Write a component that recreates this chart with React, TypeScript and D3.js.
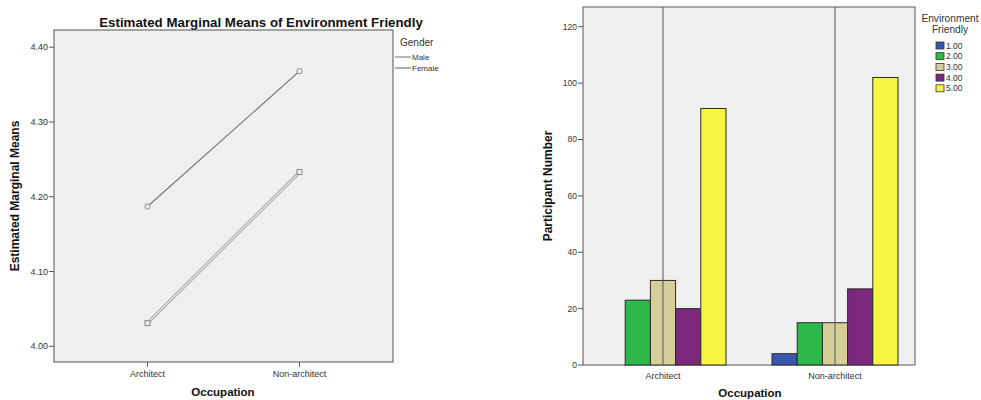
import React from "react";
import * as d3 from "d3";

const occupations = ["Architect", "Non-architect"];
const genders = ["Male", "Female"];
const maleMeans = [4.187, 4.368];
const femaleMeans = [4.031, 4.233];
const meanTicks = [4.0, 4.1, 4.2, 4.3, 4.4];

const friendlyLevels = ["1.00", "2.00", "3.00", "4.00", "5.00"];
const architectCounts = [0, 23, 30, 20, 91];
const nonArchitectCounts = [4, 15, 15, 27, 102];
const countTicks = [0, 20, 40, 60, 80, 100, 120];
const levelColors = ["#3b56ae", "#2db84a", "#d4cf98", "#7c287d", "#f7f442"];

const FONT = "'Liberation Sans', Arial, sans-serif";

function LeftChart() {
  const L = 54, R = 393, T = 30, B = 362;
  const x = d3.scalePoint<string>().domain(occupations).range([L, R]).padding(0.615);
  const y = d3.scaleLinear().domain([3.979, 4.423]).range([B, T]);
  const line = d3
    .line<number>()
    .x((_, i) => x(occupations[i]) as number)
    .y((d) => y(d));
  const maleD = line(maleMeans) || "";
  const femaleD = line(femaleMeans) || "";
  return (
    <g fontFamily={FONT}>
      <text x={261} y={27} textAnchor="middle" fontWeight="bold" fontSize={13.3} fill="#111">
        Estimated Marginal Means of Environment Friendly
      </text>
      <rect x={L} y={T} width={R - L} height={B - T} fill="#efefef" stroke="#555" strokeWidth={1} />
      {meanTicks.map((t) => (
        <g key={t}>
          <line x1={L - 5} x2={L} y1={y(t)} y2={y(t)} stroke="#555" />
          <text x={L - 6} y={y(t) + 3} textAnchor="end" fontSize={9} fill="#333">
            {d3.format(".2f")(t)}
          </text>
        </g>
      ))}
      {occupations.map((o) => (
        <g key={o}>
          <line x1={x(o)} x2={x(o)} y1={B} y2={B + 5} stroke="#555" />
          <text x={x(o)} y={B + 15} textAnchor="middle" fontSize={9} fill="#333">
            {o}
          </text>
        </g>
      ))}
      <path d={femaleD} fill="none" stroke="#9a9a9a" strokeWidth={3} />
      <path d={femaleD} fill="none" stroke="#f4f4f4" strokeWidth={1.2} />
      <path d={maleD} fill="none" stroke="#6f6f6f" strokeWidth={1.1} />
      {maleMeans.map((v, i) => (
        <circle key={"m" + i} cx={x(occupations[i])} cy={y(v)} r={2.6} fill="#efefef" stroke="#888" strokeWidth={1} />
      ))}
      {femaleMeans.map((v, i) => (
        <rect key={"f" + i} x={(x(occupations[i]) as number) - 2.5} y={y(v) - 2.5} width={5} height={5} fill="#efefef" stroke="#888" strokeWidth={1} />
      ))}
      <text x={400} y={46} fontSize={10} fill="#333">Gender</text>
      {genders.map((g, i) => (
        <g key={g}>
          <line x1={395} x2={411} y1={57 + i * 11} y2={57 + i * 11} stroke={i === 0 ? "#6f6f6f" : "#999"} strokeWidth={i === 0 ? 1 : 1.6} />
          <text x={412} y={60 + i * 11} fontSize={8} fill="#333">{g}</text>
        </g>
      ))}
      <text
        transform={`translate(19,${196}) rotate(-90)`}
        textAnchor="middle"
        fontWeight="bold"
        fontSize={12}
        fill="#111"
      >
        Estimated Marginal Means
      </text>
      <text x={223} y={396} textAnchor="middle" fontWeight="bold" fontSize={11.5} fill="#111">
        Occupation
      </text>
    </g>
  );
}

function RightChart() {
  const L = 583, R = 915, T = 7, B = 365;
  const x = d3.scalePoint<string>().domain(occupations).range([L, R]).padding(0.465);
  const inner = d3.scaleBand<string>().domain(friendlyLevels).range([-63, 63]).padding(0);
  const y = d3.scaleLinear().domain([0, 127]).range([B, T]);
  const groups = [architectCounts, nonArchitectCounts];
  return (
    <g fontFamily={FONT}>
      <rect x={L} y={T} width={R - L} height={B - T} fill="#f0f0f0" stroke="#555" strokeWidth={1} />
      {groups.map((vals, gi) =>
        vals.map((v, li) =>
          v > 0 ? (
            <rect
              key={gi + "-" + li}
              x={(x(occupations[gi]) as number) + (inner(friendlyLevels[li]) as number)}
              y={y(v)}
              width={inner.bandwidth()}
              height={B - y(v)}
              fill={levelColors[li]}
              stroke="#2a2a2a"
              strokeWidth={1}
            />
          ) : null
        )
      )}
      {occupations.map((o) => (
        <line key={o} x1={x(o)} x2={x(o)} y1={T} y2={B} stroke="#555" strokeWidth={1} />
      ))}
      {countTicks.map((t) => (
        <g key={t}>
          <line x1={L - 5} x2={L} y1={y(t)} y2={y(t)} stroke="#555" />
          <text x={L - 6} y={y(t) + 3} textAnchor="end" fontSize={8.5} fill="#333">
            {t}
          </text>
        </g>
      ))}
      {occupations.map((o) => (
        <text key={o} x={x(o)} y={B + 14} textAnchor="middle" fontSize={9} fill="#333">
          {o}
        </text>
      ))}
      <text x={950} y={22} textAnchor="middle" fontSize={10.2} fill="#333">Environment</text>
      <text x={950} y={33} textAnchor="middle" fontSize={10.2} fill="#333">Friendly</text>
      {friendlyLevels.map((lv, i) => (
        <g key={lv}>
          <rect x={936} y={42 + i * 10.7} width={8} height={7} fill={levelColors[i]} stroke="#333" strokeWidth={0.8} />
          <text x={946} y={48.5 + i * 10.7} fontSize={8.5} fill="#333">{lv}</text>
        </g>
      ))}
      <text
        transform={`translate(552,${186}) rotate(-90)`}
        textAnchor="middle"
        fontWeight="bold"
        fontSize={12}
        fill="#111"
      >
        Participant Number
      </text>
      <text x={750} y={397} textAnchor="middle" fontWeight="bold" fontSize={11.5} fill="#111">
        Occupation
      </text>
    </g>
  );
}

export default function App() {
  return (
    <svg
      width={981}
      height={400}
      style={{ position: "absolute", left: 0, top: 0, background: "#fff" }}
    >
      <LeftChart />
      <RightChart />
    </svg>
  );
}
